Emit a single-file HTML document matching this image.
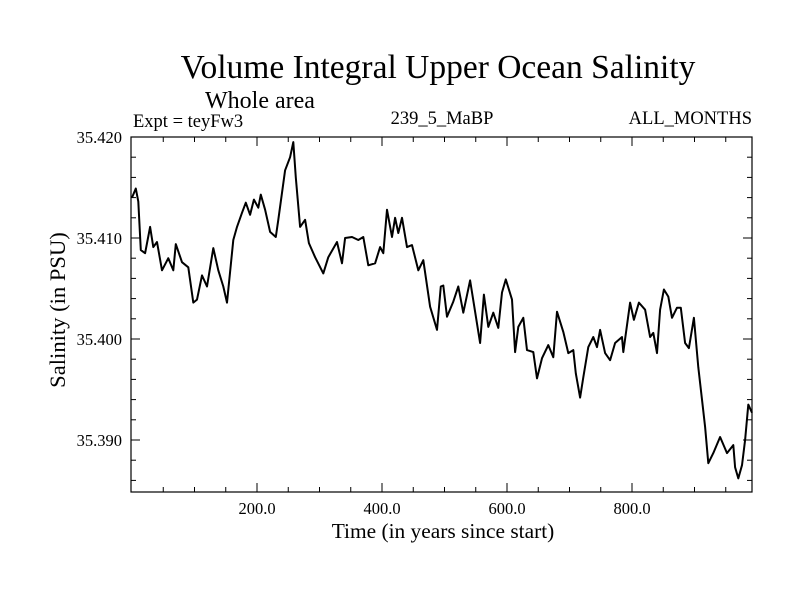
<!DOCTYPE html>
<html><head><meta charset="utf-8"><style>
body{margin:0;background:#fff;}
svg text{font-family:"Liberation Serif",serif;fill:#000;}
</style></head><body>
<svg id="chart" width="800" height="600">
<text x="438" y="78" font-size="33.5" text-anchor="middle">Volume Integral Upper Ocean Salinity</text>
<text x="260" y="108" font-size="24" text-anchor="middle">Whole area</text>
<text x="133" y="127" font-size="18.5">Expt = teyFw3</text>
<text x="442" y="124" font-size="18.5" text-anchor="middle">239_5_MaBP</text>
<text x="752" y="124" font-size="18.5" text-anchor="end">ALL_MONTHS</text>
<rect x="131" y="137" width="621" height="355" fill="none" stroke="#000" stroke-width="1.2"/>
<g id="ticks"></g>
<path id="series" fill="none" stroke="#000" stroke-width="2" stroke-linejoin="round"/>
<text x="443" y="538" font-size="21.4" text-anchor="middle">Time (in years since start)</text>
<text transform="translate(65,310) rotate(-90)" font-size="22.6" text-anchor="middle">Salinity (in PSU)</text>
</svg>
<script>
const years=[0,6,10,14,21,29,34,40,48,58,66,70,80,90,98,104,112,120,130,138,146,152,162,168,176,182,189,195,202,206,213,221,230,234,245,253,258,262,269,277,283,293,306,314,328,336,341,352,362,370,378,389,397,402,408,416,421,426,432,440,448,458,466,477,488,494,498,504,514,522,530,541,549,557,563,570,578,586,592,598,608,613,618,626,632,642,648,656,666,674,680,690,698,706,710,717,722,730,738,744,749,757,765,773,784,786,797,803,811,821,829,834,840,845,851,858,864,872,878,885,891,899,906,912,917,922,930,941,952,962,965,970,976,981,986,992];
const salinity=[35.4140,35.4149,35.4136,35.4088,35.4085,35.4111,35.4091,35.4096,35.4068,35.4080,35.4068,35.4094,35.4076,35.4071,35.4036,35.4039,35.4063,35.4052,35.4090,35.4068,35.4052,35.4036,35.4098,35.4111,35.4125,35.4135,35.4123,35.4138,35.4130,35.4143,35.4128,35.4106,35.4101,35.4118,35.4167,35.4180,35.4195,35.4160,35.4111,35.4118,35.4095,35.4081,35.4065,35.4081,35.4096,35.4075,35.4100,35.4101,35.4098,35.4101,35.4073,35.4075,35.4091,35.4085,35.4128,35.4101,35.4120,35.4105,35.4120,35.4091,35.4093,35.4068,35.4078,35.4032,35.4009,35.4052,35.4053,35.4022,35.4037,35.4052,35.4026,35.4058,35.4027,35.3996,35.4044,35.4012,35.4026,35.4011,35.4046,35.4059,35.4039,35.3987,35.4012,35.4021,35.3989,35.3987,35.3961,35.3981,35.3994,35.3982,35.4027,35.4007,35.3986,35.3989,35.3966,35.3942,35.3962,35.3992,35.4002,35.3992,35.4009,35.3986,35.3979,35.3996,35.4002,35.3987,35.4036,35.4019,35.4036,35.4029,35.4002,35.4006,35.3986,35.4029,35.4049,35.4042,35.4021,35.4031,35.4031,35.3996,35.3991,35.4021,35.3972,35.3940,35.3913,35.3877,35.3887,35.3903,35.3887,35.3895,35.3873,35.3862,35.3875,35.3900,35.3935,35.3927];
const xTicks=[200,400,600,800];
const xTickLabels=["200.0","400.0","600.0","800.0"];
const yTicks=[35.390,35.400,35.410,35.420];
const yTickLabels=["35.390","35.400","35.410","35.420"];
const X=v=>132+v*125/200;
const Y=v=>137+(35.420-v)*10100;
const NS="http://www.w3.org/2000/svg";
const g=document.getElementById('ticks');
function ln(x1,y1,x2,y2){const l=document.createElementNS(NS,'line');l.setAttribute('x1',x1);l.setAttribute('y1',y1);l.setAttribute('x2',x2);l.setAttribute('y2',y2);l.setAttribute('stroke','#000');


g.appendChild(l);}
function tx(x,y,s,a,n){const t=document.createElementNS(NS,'text');t.setAttribute('x',x);t.setAttribute('y',y);t.setAttribute('font-size','16.5');t.setAttribute('text-anchor',a);t.textContent=s;


g.appendChild(t);}
for(let v=50;v<992;v+=50){const major=v%200===0;const L=major?9:5;ln(X(v),492,X(v),492-L);ln(X(v),137,X(v),137+L);}
for(let k=0;k<=17;k++){const v=35.386+k*0.002;const y=Y(v);if(y<137||y>492)continue;const major=Math.abs((v*1000)%10)<0.01||Math.abs((v*1000)%10-10)<0.01;const L=major?9:5;ln(131,y,131+L,y);ln(752,y,752-L,y);}
xTicks.forEach((v,i)=>tx(X(v),514,xTickLabels[i],'middle','x-tick-label'));
yTicks.forEach((v,i)=>tx(122,Y(v)+6,yTickLabels[i],'end','y-tick-label'));
document.getElementById('series').setAttribute('d',years.map((v,i)=>(i?'L':'M')+X(v).toFixed(1)+','+Y(salinity[i]).toFixed(1)).join(''));
</script>
</body></html>
